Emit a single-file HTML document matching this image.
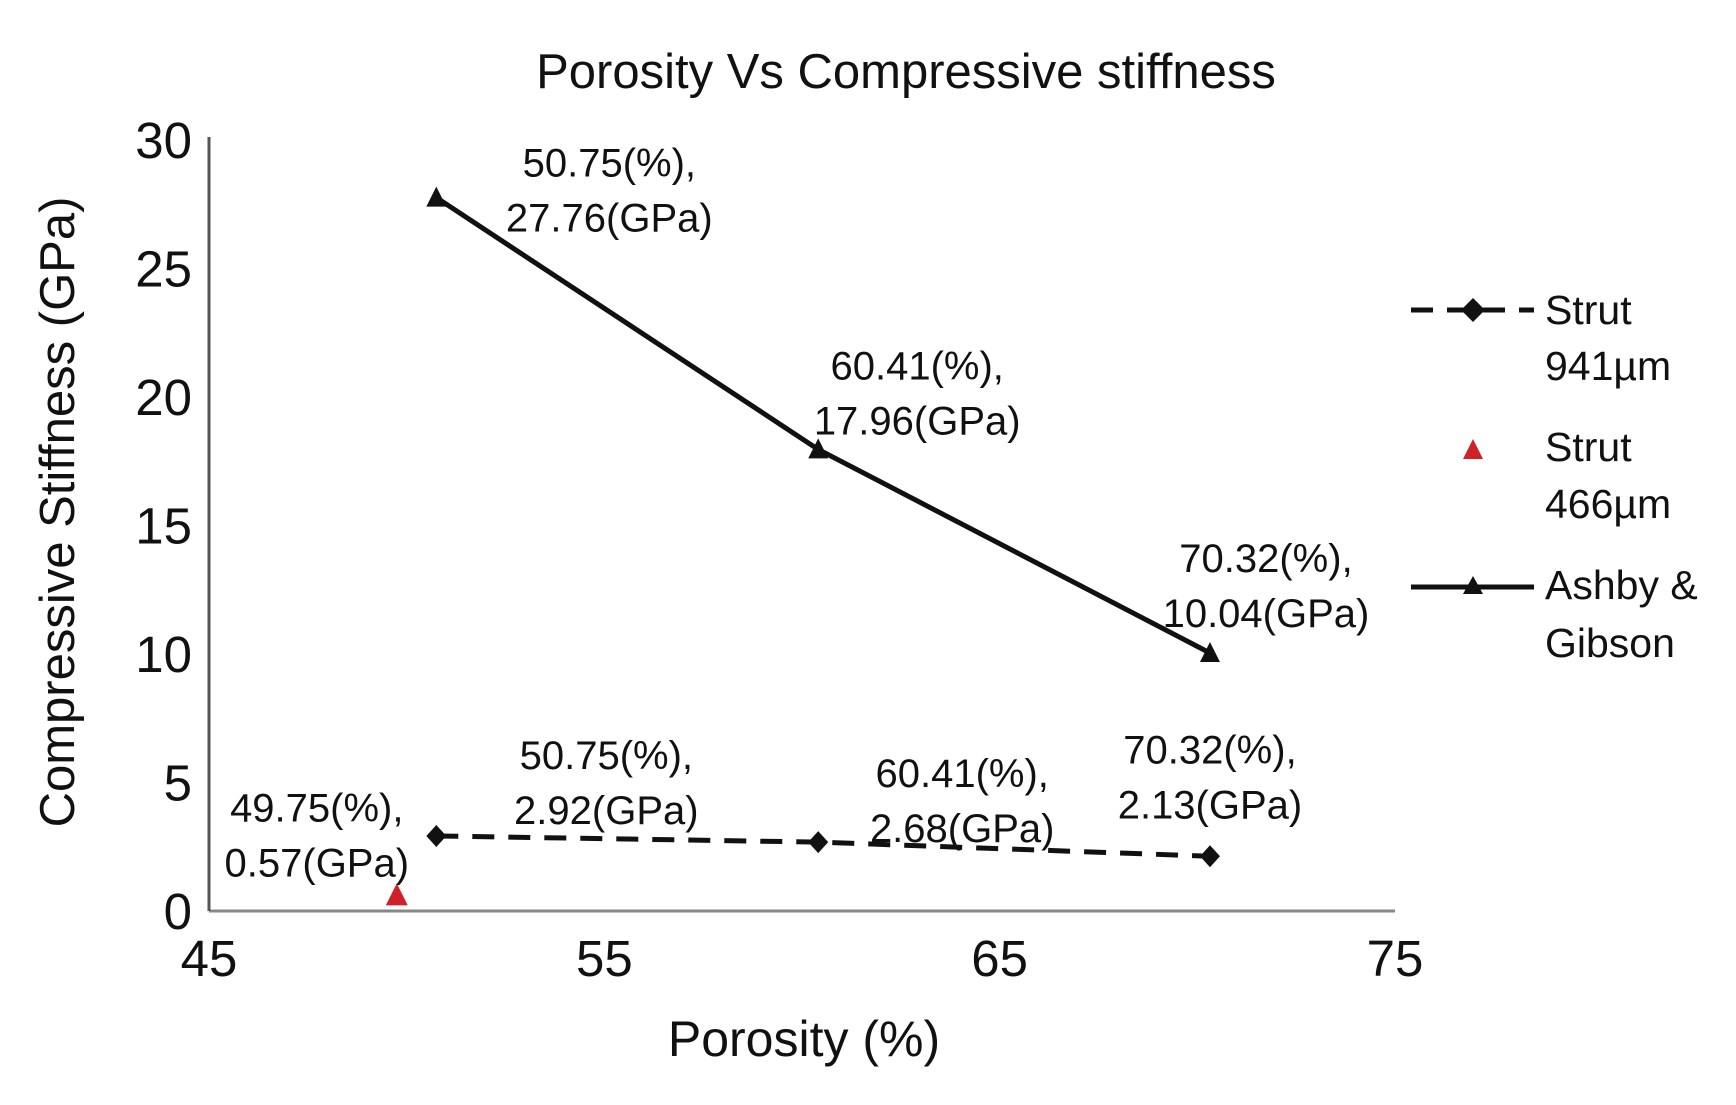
<!DOCTYPE html>
<html><head><meta charset="utf-8"><style>
body{margin:0;background:#fff;}
svg{display:block;}
text{font-family:"Liberation Sans",sans-serif;fill:#111;}
.lbl{font-size:40px;}
.leg{font-size:41px;}
.tick{font-size:51px;}
</style></head><body>
<svg id="chart" width="1736" height="1105" viewBox="0 0 1736 1105" xmlns="http://www.w3.org/2000/svg">
<text x="906" y="88" text-anchor="middle" font-size="49">Porosity Vs Compressive stiffness</text>
<g id="axes"></g>
<g id="marks"></g>
<text x="804" y="1056" text-anchor="middle" font-size="50">Porosity (%)</text>
<text transform="translate(74,512) rotate(-90)" text-anchor="middle" font-size="49">Compressive Stiffness (GPa)</text>
<g>
  <line x1="1411" y1="310" x2="1534" y2="310" stroke="#111" stroke-width="5" stroke-dasharray="22 14"/>
  <path d="M1473 298 L1485 310 L1473 322 L1461 310 Z" fill="#111"/>
  <text class="leg" x="1545" y="324">Strut</text>
  <text class="leg" x="1545" y="380">941µm</text>
  <path d="M1473 439 L1483 459 L1463 459 Z" fill="#d0202a"/>
  <text class="leg" x="1545" y="461">Strut</text>
  <text class="leg" x="1545" y="518">466µm</text>
  <line x1="1411" y1="587" x2="1534" y2="587" stroke="#111" stroke-width="5"/>
  <path d="M1473 576 L1483 594 L1463 594 Z" fill="#111"/>
  <text class="leg" x="1545" y="599">Ashby &amp;</text>
  <text class="leg" x="1545" y="657">Gibson</text>
</g>
</svg>
<script>
const xTicks=[45,55,65,75];
const yTicks=[0,5,10,15,20,25,30];
const strutX=[50.75,60.41,70.32];
const strutY=[2.92,2.68,2.13];
const redX=[49.75];
const redY=[0.57];
const ashbyX=[50.75,60.41,70.32];
const ashbyY=[27.76,17.96,10.04];
const strutLabels=[["50.75(%),","2.92(GPa)"],["60.41(%),","2.68(GPa)"],["70.32(%),","2.13(GPa)"]];
const redLabels=[["49.75(%),","0.57(GPa)"]];
const ashbyLabels=[["50.75(%),","27.76(GPa)"],["60.41(%),","17.96(GPa)"],["70.32(%),","10.04(GPa)"]];
const NS="http://www.w3.org/2000/svg";
const X0=209,X1=1395,Y0=911,Y1=140;
const sx=v=>X0+(v-45)/30*(X1-X0);
const sy=v=>Y0-(v/30)*(Y0-Y1);
function mk(tag,attrs,parent){const e=document.createElementNS(NS,tag);for(const k in attrs)e.setAttribute(k,attrs[k]);parent.appendChild(e);return e;}
const axes=document.getElementById('axes'),marks=document.getElementById('marks');
let a=mk('line',{x1:X0,y1:Y0,x2:X1,y2:Y0,stroke:'#888','stroke-width':3},axes);


a=mk('line',{x1:X0,y1:Y0,x2:X0,y2:137,stroke:'#555','stroke-width':3},axes);


xTicks.forEach(t=>{const e=mk('text',{x:sx(t),y:976,'text-anchor':'middle',class:'tick'},axes);e.textContent=t;

});
yTicks.forEach(t=>{const e=mk('text',{x:192,y:sy(t)+18,'text-anchor':'end',class:'tick'},axes);e.textContent=t;

});
let p=mk('polyline',{points:ashbyX.map((x,i)=>sx(x)+','+sy(ashbyY[i])).join(' '),fill:'none',stroke:'#111','stroke-width':5},marks);


p=mk('polyline',{points:strutX.map((x,i)=>sx(x)+','+sy(strutY[i])).join(' '),fill:'none',stroke:'#111','stroke-width':5,'stroke-dasharray':'22 14'},marks);


ashbyX.forEach((x,i)=>{const cx=sx(x),cy=sy(ashbyY[i]);const m=mk('path',{d:`M${cx} ${cy-11} L${cx+10} ${cy+9} L${cx-10} ${cy+9} Z`,fill:'#111'},marks);

});
strutX.forEach((x,i)=>{const cx=sx(x),cy=sy(strutY[i]);const m=mk('path',{d:`M${cx} ${cy-11} L${cx+10} ${cy} L${cx} ${cy+11} L${cx-10} ${cy} Z`,fill:'#111'},marks);

});
redX.forEach((x,i)=>{const cx=sx(x),cy=sy(redY[i]);const m=mk('path',{d:`M${cx} ${cy-13} L${cx+11} ${cy+9} L${cx-11} ${cy+9} Z`,fill:'#d0202a'},marks);

});
function labels(xs,ys,L,dx,dy,name){xs.forEach((x,i)=>{const cx=sx(x)+dx[i],cy=sy(ys[i])+dy[i];
 L[i].forEach((s,j)=>{const t=mk('text',{x:cx,y:cy+j*55,'text-anchor':'middle',class:'lbl'},marks);t.textContent=s;
 
 });});}
labels(ashbyX,ashbyY,ashbyLabels,[173,99,56],[-21,-70,-81],'ashby-data-label');
labels(strutX,strutY,strutLabels,[170,144,0],[-67,-55,-93],'strut-941-data-label');
labels(redX,redY,redLabels,[-80],[-75],'strut-466-data-label');
</script>
</body></html>
